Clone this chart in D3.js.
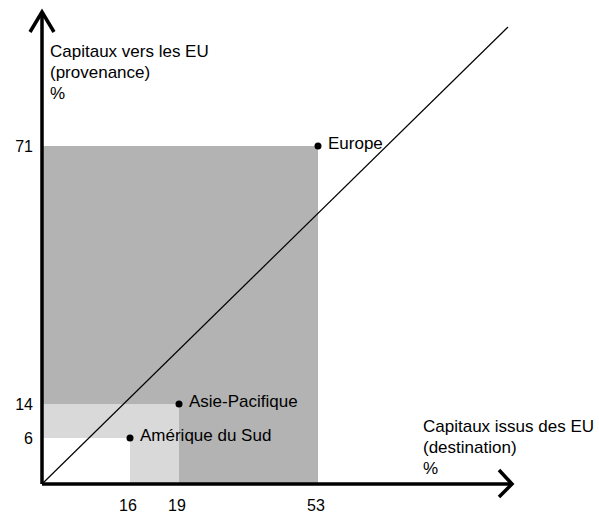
<!DOCTYPE html>
<html>
<head>
<meta charset="utf-8">
<script src="https://cdn.jsdelivr.net/npm/d3@7"></script>
<style>
  body { margin: 0; background: #fff; }
  text { font-family: "Liberation Sans", Arial, sans-serif; fill: #000; }
</style>
</head>
<body>
<div id="chart"></div>
<script>
// données : part des capitaux (%) par région
const regions = ["Europe", "Asie-Pacifique", "Amérique du Sud"];
const destination = [53, 19, 16];   // capitaux issus des EU
const provenance = [71, 14, 6];     // capitaux vers les EU
const fills = ["#b3b3b3", "#d9d9d9", "#ffffff"];
const xTicks = [16, 19, 53];
const yTicks = [6, 14, 71];
const yTitle = ["Capitaux vers les EU", "(provenance)", "%"];
const xTitle = ["Capitaux issus des EU", "(destination)", "%"];

const width = 599, height = 513;
const ox = 42, oy = 484;

const svg = d3.select("#chart").append("svg")
  .attr("width", width)
  .attr("height", height);

// échelles schématiques (non proportionnelles)
const x = d3.scaleLinear().domain([0, 16, 19, 53]).range([ox, 130, 179, 318]);
const y = d3.scaleLinear().domain([0, 6, 14, 71]).range([oy, 438, 404, 146]);

// rectangles
regions.forEach((r, i) => {
  svg.append("rect")
    .attr("x", x(0))
    .attr("y", y(provenance[i]))
    .attr("width", x(destination[i]) - x(0))
    .attr("height", y(0) - y(provenance[i]))
    .attr("fill", fills[i]);
});

// diagonale
svg.append("line")
  .attr("x1", ox).attr("y1", oy)
  .attr("x2", ox + 466).attr("y2", oy - 457)
  .attr("stroke", "#000")
  .attr("stroke-width", 1.2);

// axes avec flèches
const axisG = svg.append("g")
  .attr("fill", "none")
  .attr("stroke", "#000")
  .attr("stroke-width", 3.5);
axisG.append("path").attr("d", `M${ox},${oy} L${ox},12`);
axisG.append("path").attr("d", `M${ox},${oy} L511,${oy}`);
axisG.append("path").attr("d", `M30,32 L${ox},12 L54,32`).attr("stroke-linejoin", "miter");
axisG.append("path").attr("d", `M499,470 L512,${oy} L499,497`).attr("stroke-linejoin", "miter");

// graduations
svg.selectAll(".xt").data(xTicks).join("text")
  .attr("x", d => x(d) - 2)
  .attr("y", 511)
  .attr("text-anchor", "middle")
  .attr("font-size", 16)
  .text(d => d);

svg.selectAll(".yt").data(yTicks).join("text")
  .attr("x", 33)
  .attr("y", d => y(d))
  .attr("dy", "0.35em")
  .attr("text-anchor", "end")
  .attr("font-size", 16)
  .text(d => d);

// points et étiquettes
regions.forEach((r, i) => {
  svg.append("circle")
    .attr("cx", x(destination[i]))
    .attr("cy", y(provenance[i]))
    .attr("r", 3.5)
    .attr("fill", "#000");
  svg.append("text")
    .attr("x", x(destination[i]) + 10)
    .attr("y", y(provenance[i]) - 3)
    .attr("dy", "0.35em")
    .attr("font-size", 17)
    .text(r);
});

// titres des axes
yTitle.forEach((t, i) => {
  svg.append("text")
    .attr("x", 50).attr("y", 57 + i * 21)
    .attr("font-size", 17)
    .text(t);
});
xTitle.forEach((t, i) => {
  svg.append("text")
    .attr("x", 423).attr("y", 432 + i * 21)
    .attr("font-size", 17)
    .text(t);
});
</script>
</body>
</html>
